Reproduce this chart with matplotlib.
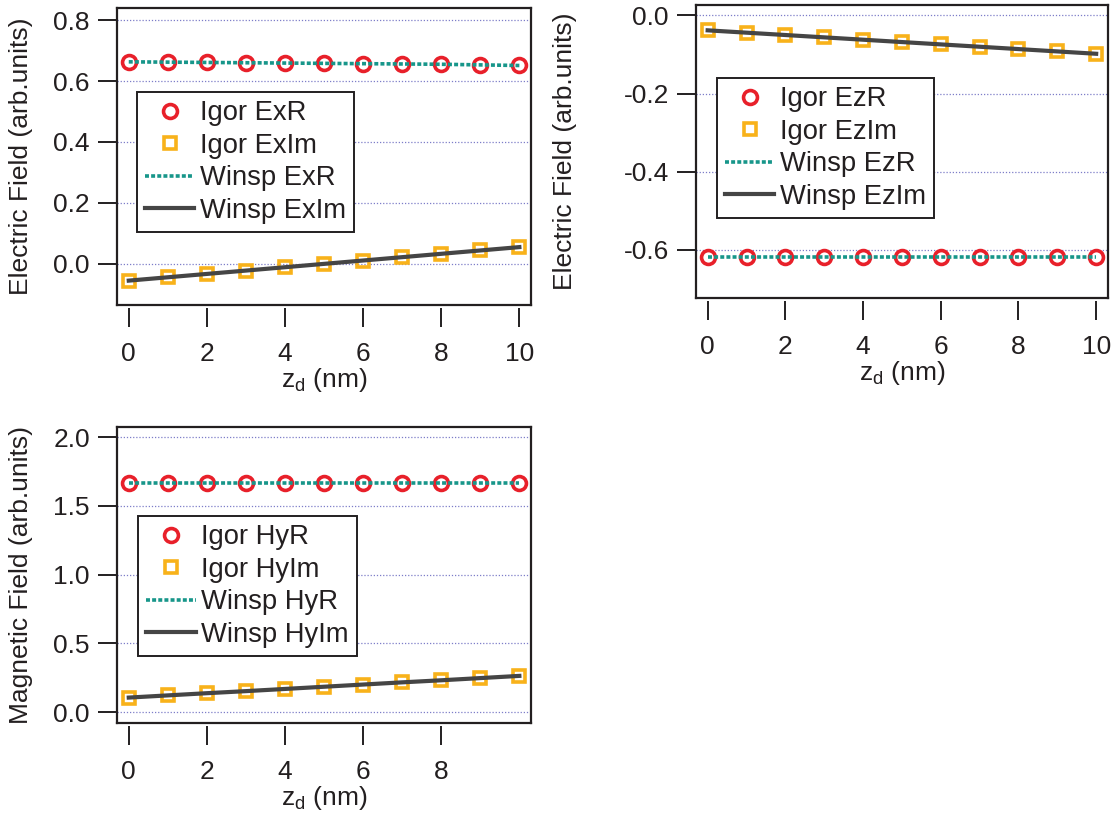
import matplotlib
matplotlib.use("Agg")
import matplotlib.pyplot as plt
import numpy as np

# Datos
z = [0, 1, 2, 3, 4, 5, 6, 7, 8, 9, 10]

ex_re = [0.663, 0.662, 0.661, 0.660, 0.659, 0.658, 0.657, 0.656, 0.655, 0.653, 0.651]
ex_im = [-0.055, -0.044, -0.033, -0.022, -0.011, 0.000, 0.011, 0.022, 0.033, 0.044, 0.055]

ez_re = [-0.617, -0.617, -0.617, -0.617, -0.617, -0.617, -0.617, -0.617, -0.617, -0.617, -0.617]
ez_im = [-0.038, -0.044, -0.050, -0.056, -0.062, -0.068, -0.074, -0.080, -0.086, -0.092, -0.098]

hy_re = [1.668, 1.668, 1.668, 1.668, 1.668, 1.668, 1.668, 1.668, 1.668, 1.668, 1.668]
hy_im = [0.105, 0.121, 0.137, 0.152, 0.168, 0.184, 0.200, 0.216, 0.231, 0.247, 0.263]

plt.rcParams['font.family'] = ['Liberation Sans', 'DejaVu Sans']
plt.rcParams['mathtext.fontset'] = 'custom'
plt.rcParams['mathtext.rm'] = 'Liberation Sans'

RED = '#e8202a'
ORANGE = '#f8b21a'
TEAL = '#17968a'
DARK = '#454545'
INK = '#231f20'


def panel(fig, rect, re, im, name, ylabel, ylim, yticks, xticks, leg_xy, ylab_x):
    ax = fig.add_axes(rect)
    ax.plot(z, re, 'o', ms=10, mfc='none', mec=RED, mew=2.6, label=f'Igor {name}R')
    ax.plot(z, im, 's', ms=9.3, mfc='none', mec=ORANGE, mew=2.6, label=f'Igor {name}Im')
    ax.plot(z, re, color=TEAL, lw=2.6, ls=(0, (1.1, 0.6)), label=f'Winsp {name}R')
    ax.plot(z, im, color=DARK, lw=3.0, label=f'Winsp {name}Im')

    ax.set_xlim(-0.3, 10.3)
    ax.set_ylim(*ylim)
    ax.set_xticks(xticks)
    ax.set_yticks(yticks)
    ax.set_yticklabels([f'{v:.1f}' for v in yticks])
    ax.yaxis.grid(True, ls=(0, (1, 1.5)), color='#7d7dc8', lw=0.9)
    ax.set_axisbelow(True)

    for s in ['left', 'top', 'right']:
        ax.spines[s].set_color(INK)
        ax.spines[s].set_linewidth(1.6)
    # eje x separado del marco, como en Igor
    ax.spines['bottom'].set_position(('outward', 2))
    ax.spines['bottom'].set_visible(False)
    ax.plot([0, 1], [0, 0], transform=ax.transAxes, color=INK, lw=1.6, clip_on=False)

    ax.tick_params(axis='both', direction='out', length=13.5, width=1.4, color=INK,
                   labelsize=19, labelcolor=INK)
    ax.tick_params(axis='x', pad=11)
    ax.tick_params(axis='y', pad=6)

    ax.set_xlabel(r'z$_{\mathregular{d}}$ (nm)', fontsize=19, color=INK, labelpad=0)
    ax.set_ylabel(ylabel, fontsize=19, color=INK)
    ax.yaxis.set_label_coords(ylab_x, 0.5)

    leg = ax.legend(loc='upper left', bbox_to_anchor=leg_xy, fontsize=19.7,
                    frameon=True, fancybox=False, framealpha=1, edgecolor=INK,
                    handlelength=1.8, handletextpad=0.2, labelspacing=0.24,
                    borderpad=0.3, borderaxespad=0)
    leg.get_frame().set_linewidth(1.4)
    for t in leg.get_texts():
        t.set_color(INK)
    return ax


fig = plt.figure(figsize=(11.19, 8.23), dpi=100)

panel(fig, [0.1046, 0.6294, 0.370, 0.361], ex_re, ex_im, 'Ex',
      'Electric Field (arb.units)', (-0.135, 0.84), [0.0, 0.2, 0.4, 0.6, 0.8],
      [0, 2, 4, 6, 8, 10], (0.048, 0.717), -0.203)

panel(fig, [0.622, 0.638, 0.368, 0.356], ez_re, ez_im, 'Ez',
      'Electric Field (arb.units)', (-0.723, 0.027), [-0.6, -0.4, -0.2, 0.0],
      [0, 2, 4, 6, 8, 10], (0.051, 0.751), -0.289)

panel(fig, [0.1046, 0.1215, 0.370, 0.3597], hy_re, hy_im, 'Hy',
      'Magnetic Field (arb.units)', (-0.08, 2.075), [0.0, 0.5, 1.0, 1.5, 2.0],
      [0, 2, 4, 6, 8], (0.051, 0.699), -0.203)

fig.savefig('out.png', dpi=100)
